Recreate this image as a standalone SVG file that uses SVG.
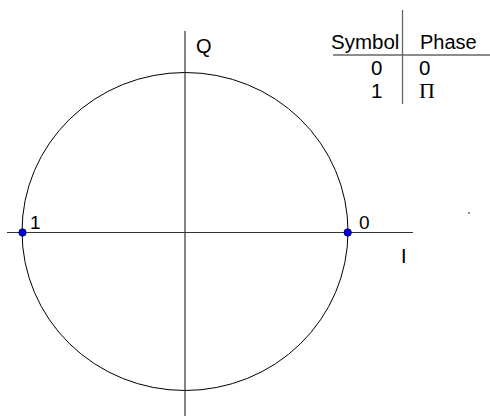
<svg xmlns="http://www.w3.org/2000/svg" width="490" height="416" viewBox="0 0 490 416">
<style>
text{font-family:"Liberation Sans",Arial,sans-serif;fill:#000}
.serif{font-family:"Liberation Serif","Times New Roman",serif}
.ax{stroke:#333;stroke-width:1.2;fill:none}
.tb{stroke:#666;stroke-width:1.3;fill:none}
.pt{fill:#0000ee;stroke:#000033;stroke-width:0.8}
</style>
<rect width="490" height="416" fill="#fff"/>
<g id="circle">
<ellipse cx="185" cy="231.5" rx="163" ry="159" fill="none" stroke="#000" stroke-width="1"/>
</g>
<g id="axes">
<line class="ax" x1="7" y1="232.5" x2="413" y2="232.5"/>
<line class="ax" x1="185" y1="31" x2="185" y2="416" stroke="#000"/>
<text x="196" y="53" font-size="20">Q</text>
<text x="401" y="263" font-size="20">I</text>
</g>
<g id="point-1">
<circle class="pt" cx="22.5" cy="232.5" r="3.7"/>
<text x="30" y="228.5" font-size="19">1</text>
</g>
<g id="point-0">
<circle class="pt" cx="347.7" cy="232.5" r="3.7"/>
<text x="359" y="229" font-size="19">0</text>
</g>
<circle cx="469" cy="213" r="0.9" fill="#555"/>
<g id="table">
<line class="tb" x1="402.5" y1="10" x2="402.5" y2="104"/>
<line class="tb" x1="333" y1="55" x2="490" y2="55"/>
<text x="331" y="49" font-size="20.5">Symbol</text>
<text x="420" y="49" font-size="20">Phase</text>
<text x="371" y="75" font-size="20.5">0</text>
<text x="419" y="75" font-size="20.5">0</text>
<text x="371" y="98" font-size="20.5">1</text>
<text class="serif" x="419" y="98" font-size="22">Π</text>
</g>
</svg>
